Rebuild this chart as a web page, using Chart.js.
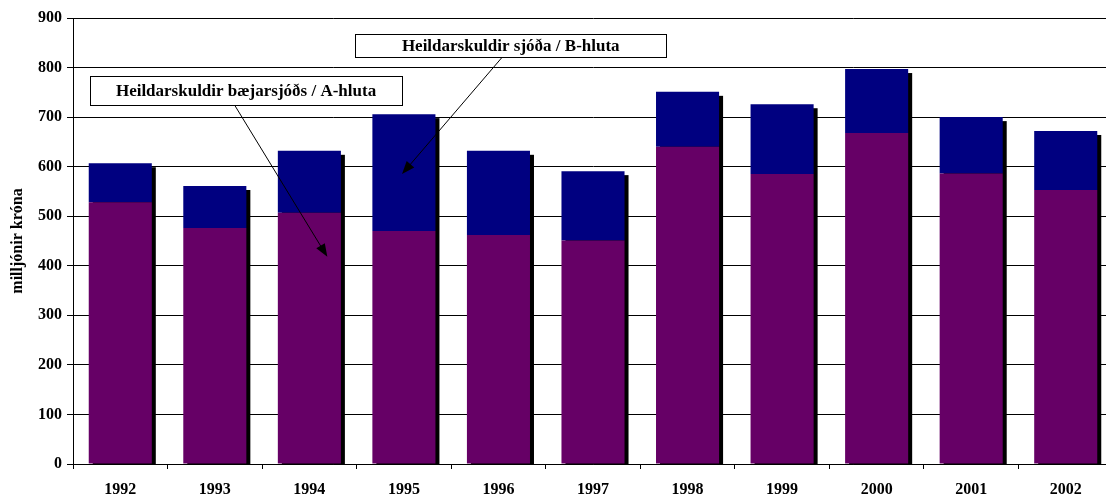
<!DOCTYPE html>
<html>
<head>
  <meta charset="UTF-8" />
  <title>Heildarskuldir</title>
  <script src="https://cdn.jsdelivr.net/npm/chart.js"></script>
  <style>
    html, body {
      margin: 0; padding: 0;
      background: white;
      overflow: hidden;
      width: 1106px; height: 497px;
    }
    canvas { display: block; }
  </style>
</head>
<body>
  <canvas id="debtChart" width="1113" height="497"></canvas>
  <script>
    const years = ['1992', '1993', '1994', '1995', '1996', '1997', '1998', '1999', '2000', '2001', '2002'];
    // A-hluti (bæjarsjóður), bottom of each bar
    const aHluti = [528, 476, 507, 470, 462, 451, 640, 585, 668, 586, 553];
    // B-hluti (sjóðir), stacked on top
    const bHluti = [79, 85, 125, 236, 170, 140, 111, 141, 129, 114, 119];
    const yTicks = [0, 100, 200, 300, 400, 500, 600, 700, 800, 900];

    const serif = "'Liberation Serif', 'Times New Roman', serif";

    // callouts, anchored in data units (x = category index, y = value)
    const callouts = [
      { text: 'Heildarskuldir bæjarsjóðs / A-hluta', box: [1.33, 754], w: 312, h: 29, from: [1.21, 724], to: [2.19, 418] },
      { text: 'Heildarskuldir sjóða / B-hluta', box: [4.13, 844], w: 311, h: 23, from: [4.04, 821], to: [2.98, 585] }
    ];

    // black drop shadow behind each stacked column
    const shadowPlugin = {
      id: 'colShadow',
      beforeDatasetsDraw(chart) {
        const ctx = chart.ctx, area = chart.chartArea;
        const bottom = chart.getDatasetMeta(0).data;
        const top = chart.getDatasetMeta(1).data;
        ctx.save();
        ctx.beginPath();
        ctx.rect(area.left, area.top, area.right - area.left, area.bottom - area.top);
        ctx.clip();
        ctx.fillStyle = '#000';
        bottom.forEach((el, i) => {
          const t = top[i];
          const w = el.width;
          ctx.fillRect(el.x - w / 2 + 4, t.y + 4, w, el.base - t.y);
        });
        ctx.restore();
      }
    };

    const calloutPlugin = {
      id: 'callouts',
      afterDraw(chart) {
        const ctx = chart.ctx;
        const xs = chart.scales.x, ys = chart.scales.y;
        const px = v => xs.getPixelForValue(0) + v * (xs.getPixelForValue(1) - xs.getPixelForValue(0));
        ctx.save();
        callouts.forEach(c => {
          // arrow line
          const x1 = px(c.from[0]), y1 = ys.getPixelForValue(c.from[1]);
          const x2 = px(c.to[0]), y2 = ys.getPixelForValue(c.to[1]);
          const ang = Math.atan2(y2 - y1, x2 - x1);
          ctx.strokeStyle = '#000';
          ctx.lineWidth = 1;
          ctx.beginPath();
          ctx.moveTo(x1, y1);
          ctx.lineTo(x2 - 10 * Math.cos(ang), y2 - 10 * Math.sin(ang));
          ctx.stroke();
          // arrow head
          ctx.fillStyle = '#000';
          ctx.beginPath();
          ctx.moveTo(x2, y2);
          ctx.lineTo(x2 - 13 * Math.cos(ang) + 5 * Math.sin(ang), y2 - 13 * Math.sin(ang) - 5 * Math.cos(ang));
          ctx.lineTo(x2 - 13 * Math.cos(ang) - 5 * Math.sin(ang), y2 - 13 * Math.sin(ang) + 5 * Math.cos(ang));
          ctx.closePath();
          ctx.fill();
          // box
          const cx = px(c.box[0]), cy = ys.getPixelForValue(c.box[1]);
          const bx = Math.round(cx - c.w / 2) + 0.5, by = Math.round(cy - c.h / 2) + 0.5;
          ctx.fillStyle = '#fff';
          ctx.fillRect(bx, by, c.w, c.h);
          ctx.strokeRect(bx, by, c.w, c.h);
          ctx.fillStyle = '#000';
          ctx.font = 'bold 17px ' + serif;
          ctx.textAlign = 'center';
          ctx.textBaseline = 'middle';
          ctx.fillText(c.text, cx, cy + 1);
        });
        ctx.restore();
      }
    };

    const ctx = document.getElementById('debtChart').getContext('2d');
    new Chart(ctx, {
      type: 'bar',
      data: {
        labels: years,
        datasets: [
          {
            label: 'Heildarskuldir bæjarsjóðs / A-hluta',
            data: aHluti,
            backgroundColor: '#660066',
            borderWidth: 0,
            categoryPercentage: 1,
            barPercentage: 0.667
          },
          {
            label: 'Heildarskuldir sjóða / B-hluta',
            data: bHluti,
            backgroundColor: '#000080',
            borderWidth: 0,
            categoryPercentage: 1,
            barPercentage: 0.667
          }
        ]
      },
      options: {
        responsive: false,
        animation: false,
        layout: { padding: { top: 18, right: 0, left: 0, bottom: 0 } },
        plugins: {
          legend: { display: false },
          tooltip: { enabled: false }
        },
        scales: {
          x: {
            stacked: true,
            grid: { offset: true, drawOnChartArea: false, color: '#000', tickLength: 5 },
            border: { color: '#000', width: 1 },
            ticks: {
              color: '#000',
              font: { family: serif, size: 16, weight: 'bold' },
              padding: 11,
              maxRotation: 0
            },
            afterFit: s => { s.height = 33; }
          },
          y: {
            stacked: true,
            min: 0,
            max: 900,
            afterBuildTicks: s => { s.ticks = yTicks.map(v => ({ value: v })); },
            grid: { color: '#000', tickLength: 6 },
            border: { color: '#000', width: 1 },
            ticks: {
              color: '#000',
              font: { family: serif, size: 16, weight: 'bold' },
              padding: 5
            },
            title: {
              display: true,
              text: 'milljónir króna',
              color: '#000',
              font: { family: serif, size: 16, weight: 'bold' },
              padding: { top: 8, bottom: 0 }
            },
            afterFit: s => { s.width = 73; }
          }
        }
      },
      plugins: [shadowPlugin, calloutPlugin]
    });
  </script>
</body>
</html>
